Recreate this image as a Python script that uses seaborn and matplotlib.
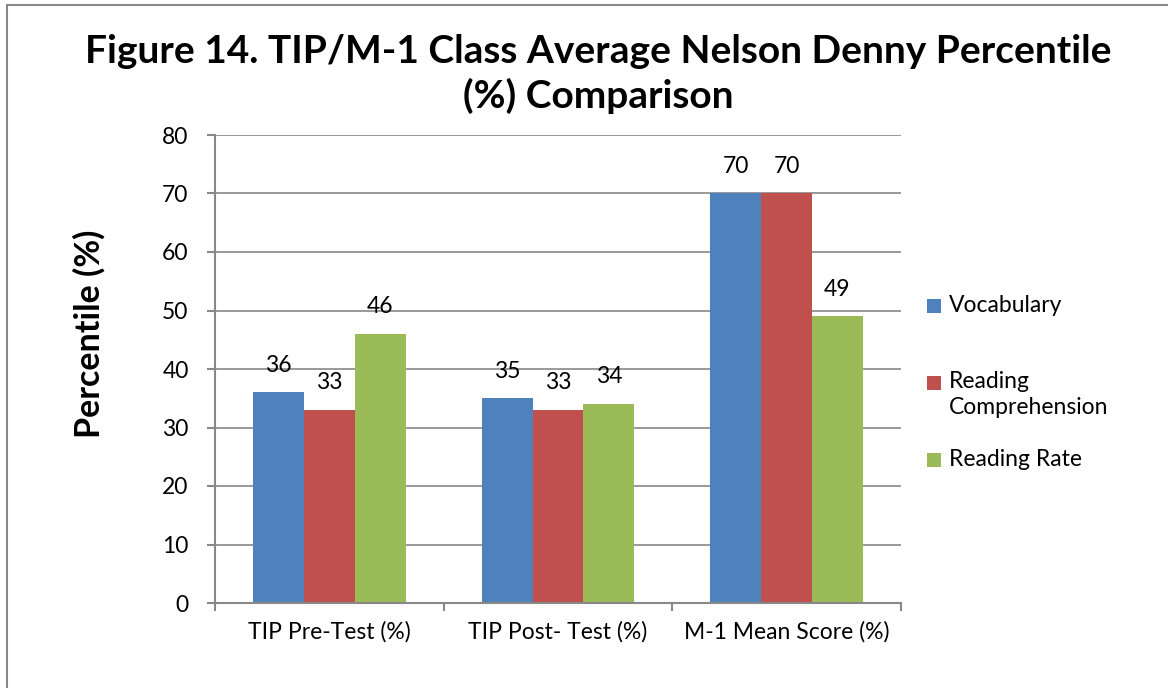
import matplotlib
matplotlib.use("Agg")
import matplotlib.pyplot as plt
import matplotlib.patches as mpatches
import seaborn as sns
import pandas as pd

# Chart data
CATEGORIES = ["TIP Pre-Test (%)", "TIP Post- Test (%)", "M-1 Mean Score (%)"]
SERIES = ["Vocabulary", "Reading Comprehension", "Reading Rate"]
LEGEND_LABELS = ["Vocabulary", "Reading\nComprehension", "Reading Rate"]
VOCABULARY = [36, 35, 70]
READING_COMPREHENSION = [33, 33, 70]
READING_RATE = [46, 34, 49]
Y_TICKS = [0, 10, 20, 30, 40, 50, 60, 70, 80]

COLORS = ["#4F81BD", "#C0504D", "#9BBB59"]
GRID = "#888888"
FS = 16.5

sns.set_style("white")
plt.rcParams["font.family"] = ["Lato", "DejaVu Sans"]
plt.rcParams["text.color"] = "black"
plt.rcParams["axes.labelcolor"] = "black"
plt.rcParams["xtick.labelcolor"] = "black"
plt.rcParams["ytick.labelcolor"] = "black"

df = pd.DataFrame({
    "test": CATEGORIES * 3,
    "measure": [SERIES[0]] * 3 + [SERIES[1]] * 3 + [SERIES[2]] * 3,
    "percentile": VOCABULARY + READING_COMPREHENSION + READING_RATE,
})

W, H = 1168, 688
fig = plt.figure(figsize=(W / 100, H / 100), dpi=100)
ax = fig.add_axes([215 / W, 1 - 603 / H, (901 - 215) / W, (603 - 135) / H])

sns.barplot(data=df, x="test", y="percentile", hue="measure",
            order=CATEGORIES, hue_order=SERIES, palette=COLORS,
            saturation=1, width=2 / 3, gap=0, linewidth=0,
            legend=False, ax=ax)

for cont in ax.containers:
    ax.bar_label(cont, padding=12, fontsize=FS, color="black")

ax.set_xlim(-0.5, 2.5)
ax.set_ylim(0, 80)
ax.set_yticks(Y_TICKS)
ax.set_xticks([-0.5, 0.5, 1.5, 2.5], minor=True)
ax.tick_params(axis="x", which="major", length=0, pad=13, labelsize=FS)
ax.tick_params(axis="x", which="minor", bottom=True, length=6, width=1.5,
               color=GRID, direction="out")
ax.tick_params(axis="y", left=True, length=6, width=1.5, color=GRID,
               direction="out", labelsize=FS, pad=13)

ax.yaxis.grid(True, color=GRID, linewidth=1.2)
ax.set_axisbelow(True)
for s in ["top", "right"]:
    ax.spines[s].set_visible(False)
for s in ["left", "bottom"]:
    ax.spines[s].set_color(GRID)
    ax.spines[s].set_linewidth(1.5)

ax.set_xlabel("")
ax.set_ylabel("Percentile (%)", fontsize=24.5, fontweight="bold")
ax.yaxis.set_label_coords((106 - 215) / 686, (603 - 334) / 468)

fig.text(598 / W, 1 - 74 / H,
         "Figure 14. TIP/M-1 Class Average Nelson Denny Percentile\n(%) Comparison",
         ha="center", va="center", fontsize=28, fontweight="bold",
         linespacing=1.3)

# legend, drawn by hand so the marker sits beside the first text line
legend_y = [306, 383, 460]
for label, color, y in zip(LEGEND_LABELS, COLORS, legend_y):
    fig.patches.append(mpatches.Rectangle(
        (927 / W, 1 - (y + 7) / H), 14 / W, 14 / H,
        transform=fig.transFigure, facecolor=color, edgecolor="none"))
    if "\n" in label:
        fig.text(949 / W, 1 - (y - 12) / H, label, ha="left", va="top",
                 fontsize=FS, linespacing=1.3)
    else:
        fig.text(949 / W, 1 - y / H, label, ha="left", va="center", fontsize=FS)

# chart frame
fig.patches.append(mpatches.Rectangle(
    (7 / W, -0.1), 1.2, (H - 5) / H + 0.1, transform=fig.transFigure,
    fill=False, edgecolor=GRID, linewidth=1.5))

fig.savefig("out.png", dpi=100)
